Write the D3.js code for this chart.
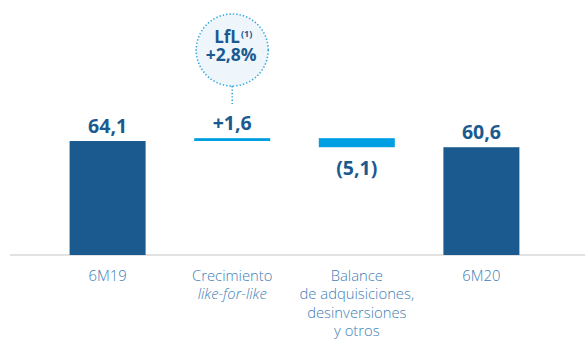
<!DOCTYPE html>
<html>
<head>
<meta charset="utf-8">
<script src="https://cdn.jsdelivr.net/npm/d3@7"></script>
<style>
  html, body { margin: 0; padding: 0; background: #fff; }
  svg { display: block; }
</style>
</head>
<body>
<svg id="chart" width="585" height="340"></svg>
<script>
// ---- data ----
const categories = ["6M19", "Crecimiento like-for-like", "Balance de adquisiciones, desinversiones y otros", "6M20"];
const labelLines = [
  [{t: "6M19"}],
  [{t: "Crecimiento"}, {t: "like-for-like", italic: true}],
  [{t: "Balance"}, {t: "de adquisiciones,"}, {t: "desinversiones"}, {t: "y otros"}],
  [{t: "6M20"}]
];
const values = [64.1, 1.6, -5.1, 60.6];
const kinds = ["total", "delta", "delta", "total"];
const valueLabels = ["64,1", "+1,6", "(5,1)", "60,6"];
const callout = {title: "LfL", sup: "(1)", value: "+2,8%", category: "Crecimiento like-for-like"};

// ---- style ----
const darkBlue = "#1a5a8e";
const lightBlue = "#009fe3";
const textDark = "#1b5a8f";
const textCat = "#4080b6";
const fontBold = "'Open Sans', Lato, sans-serif";
const fontCat = "'Open Sans', Lato, sans-serif";

const svg = d3.select("#chart");

// waterfall layout
let running = 0;
const bars = values.map((v, i) => {
  let y0, y1;
  if (kinds[i] === "total") { y0 = 0; y1 = v; running = v; }
  else { y0 = running; y1 = running + v; running = y1; }
  return {cat: categories[i], v, y0, y1, kind: kinds[i], label: valueLabels[i]};
});

const x = d3.scaleBand()
  .domain(categories)
  .range([45.3, 543.7])
  .paddingInner(0.39)
  .paddingOuter(0.195);

const y = d3.scaleLinear().domain([0, 64.1]).range([255, 141]);

// baseline
svg.append("line")
  .attr("x1", 10).attr("x2", 585)
  .attr("y1", y(0)).attr("y2", y(0))
  .attr("stroke", "#d9d9d9").attr("stroke-width", 1.6);

// bars
svg.selectAll("rect.bar").data(bars).join("rect")
  .attr("class", "bar")
  .attr("x", d => x(d.cat))
  .attr("width", x.bandwidth())
  .attr("y", d => y(Math.max(d.y0, d.y1)))
  .attr("height", d => Math.abs(y(d.y0) - y(d.y1)))
  .attr("fill", d => d.kind === "total" ? darkBlue : lightBlue);

// value labels
svg.selectAll("text.val").data(bars).join("text")
  .attr("class", "val")
  .attr("x", d => x(d.cat) + x.bandwidth() / 2)
  .attr("y", d => d.v >= 0 ? y(Math.max(d.y0, d.y1)) - 8 : y(Math.min(d.y0, d.y1)) + 28)
  .attr("text-anchor", "middle")
  .attr("font-family", fontBold)
  .attr("font-weight", 700)
  .attr("font-size", 19.5)
  .attr("fill", textDark)
  .text(d => d.label);

// category labels
const catG = svg.selectAll("g.cat").data(categories).join("g")
  .attr("class", "cat")
  .attr("transform", c => `translate(${x(c) + x.bandwidth() / 2},0)`);
catG.each(function(c, i) {
  const g = d3.select(this);
  labelLines[i].forEach((ln, j) => {
    g.append("text")
      .attr("x", 0)
      .attr("y", 281 + j * 18.3)
      .attr("text-anchor", "middle")
      .attr("font-family", fontCat)
      .attr("font-weight", 300)
      .attr("font-size", 14.8)
      .attr("font-style", ln.italic ? "italic" : "normal")
      .attr("fill", textCat)
      .text(ln.t);
  });
});

// callout bubble
const cx = x(callout.category) + x.bandwidth() / 2;
const cy = 50, r = 36;
svg.append("line")
  .attr("x1", cx).attr("x2", cx)
  .attr("y1", cy + r).attr("y2", 104)
  .attr("stroke", "#3aa8e0").attr("stroke-width", 1.6)
  .attr("stroke-dasharray", "1.4 2");
svg.append("circle")
  .attr("cx", cx).attr("cy", cy).attr("r", r)
  .attr("fill", "#eef6fc")
  .attr("stroke", "#3aa8e0").attr("stroke-width", 1.6)
  .attr("stroke-dasharray", "1.4 2");
const t1 = svg.append("text")
  .attr("text-anchor", "middle")
  .attr("font-family", fontBold).attr("font-weight", 700)
  .attr("fill", textDark);
t1.append("tspan").attr("x", cx + 1).attr("y", 43).attr("font-size", 17).text(callout.title)
  .append("tspan").attr("font-size", 9).attr("dy", -6).attr("dx", 1).text(callout.sup);
t1.append("tspan").attr("x", cx - 1).attr("y", 60.5).attr("font-size", 17.5).text(callout.value);
</script>
</body>
</html>
